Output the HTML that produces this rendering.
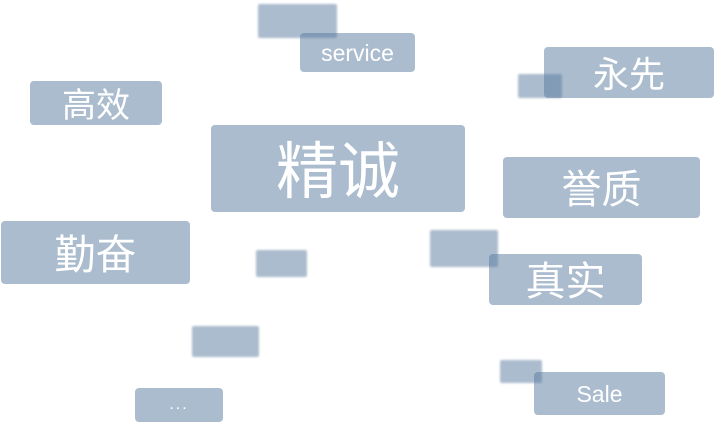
<!DOCTYPE html>
<html><head><meta charset="utf-8"><style>
body{margin:0;width:715px;height:424px;background:#fff;position:relative;overflow:hidden;font-family:"Liberation Sans","Noto Sans CJK SC",sans-serif}
.b{position:absolute;background:rgba(87,122,157,0.5);border-radius:4px;color:#fff;display:flex;align-items:center;justify-content:center;box-sizing:border-box;line-height:1}
.c{padding-top:5px}
.s{filter:blur(1px);border-radius:2px}
</style></head><body>
<div class="b s" style="left:258px;top:4px;width:79px;height:34px"></div>
<div class="b" style="left:300px;top:33px;width:115px;height:39px;font-size:23px;padding-top:2px">service</div>
<div class="b c" style="left:30px;top:81px;width:132px;height:44px;font-size:34px">高效</div>
<div class="b s" style="left:518px;top:74px;width:44px;height:24px"></div>
<div class="b c" style="left:544px;top:47px;width:170px;height:51px;font-size:36px">永先</div>
<div class="b c" style="left:211px;top:125px;width:254px;height:87px;font-size:62px;padding-top:8px">精诚</div>
<div class="b c" style="left:503px;top:157px;width:197px;height:61px;font-size:40px">誉质</div>
<div class="b c" style="left:1px;top:221px;width:189px;height:63px;font-size:41px">勤奋</div>
<div class="b s" style="left:256px;top:250px;width:51px;height:27px"></div>
<div class="b s" style="left:430px;top:230px;width:68px;height:37px"></div>
<div class="b c" style="left:489px;top:254px;width:153px;height:51px;font-size:40px">真实</div>
<div class="b s" style="left:192px;top:326px;width:67px;height:31px"></div>
<div class="b s" style="left:500px;top:360px;width:42px;height:23px"></div>
<div class="b" style="left:534px;top:372px;width:131px;height:43px;font-size:23px;padding-top:2px">Sale</div>
<div class="b" style="left:135px;top:388px;width:88px;height:34px;font-size:16px;letter-spacing:2px">...</div>
</body></html>
